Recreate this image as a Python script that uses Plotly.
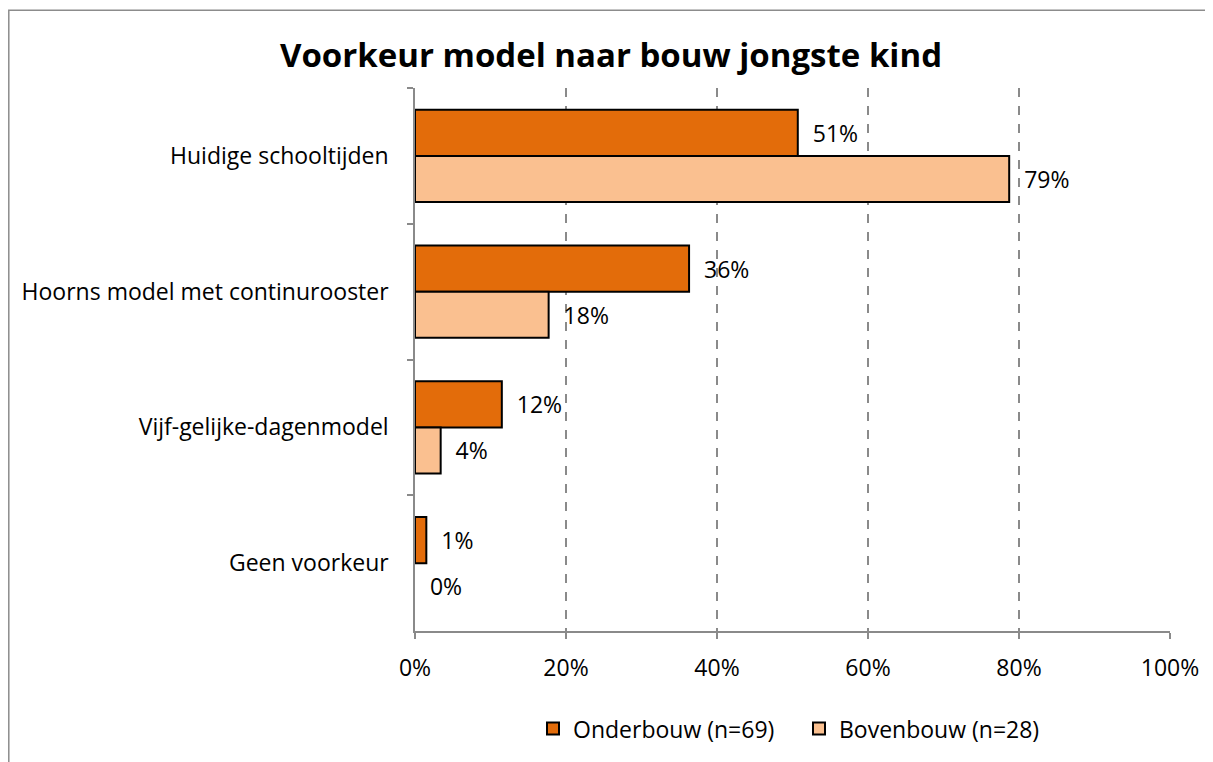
import plotly.graph_objects as go

categories = ["Huidige schooltijden", "Hoorns model met continurooster", "Vijf-gelijke-dagenmodel", "Geen voorkeur"]
onderbouw = [0.507, 0.363, 0.115, 0.015]
bovenbouw = [0.787, 0.177, 0.034, 0.0]
onder_labels = ["51%", "36%", "12%", "1%"]
boven_labels = ["79%", "18%", "4%", "0%"]
series_names = ["Onderbouw (n=69)", "Bovenbouw (n=28)"]
x_ticks = [0, 0.2, 0.4, 0.6, 0.8, 1.0]
x_tick_labels = ["0%", "20%", "40%", "60%", "80%", "100%"]

FONT = "Open Sans, sans-serif"
FS = 23

# page has an 8px body margin; figure coordinates are page coordinates minus 8
W, H = 1205, 754
L, R_EDGE, T, B_EDGE = 407, 1162, 80, 625
PW, PH = R_EDGE - L, B_EDGE - T

fig = go.Figure()
fig.add_trace(go.Bar(
    y=categories, x=onderbouw, orientation="h", name=series_names[0],
    marker=dict(color="#E36C0A", line=dict(color="#000000", width=[2 if v > 0 else 0 for v in onderbouw])),
    text=["  " + t for t in onder_labels], textposition="outside", cliponaxis=False,
    textfont=dict(size=FS, color="#000000", family=FONT),
))
fig.add_trace(go.Bar(
    y=categories, x=bovenbouw, orientation="h", name=series_names[1],
    marker=dict(color="#FAC090", line=dict(color="#000000", width=[2 if v > 0 else 0 for v in bovenbouw])),
    text=["  " + t for t in boven_labels], textposition="outside", cliponaxis=False,
    textfont=dict(size=FS, color="#000000", family=FONT),
))

fig.update_layout(
    width=W, height=H,
    paper_bgcolor="white", plot_bgcolor="white",
    barmode="group", bargap=0.32, bargroupgap=0,
    margin=dict(l=L, r=W - R_EDGE, t=T, b=H - B_EDGE, pad=0),
    title=dict(text="<b>Voorkeur model naar bouw jongste kind</b>", x=(611 - 8) / W, xanchor="center",
               y=1 - 47 / H, yanchor="middle",
               font=dict(size=33, color="#000000", family=FONT)),
    font=dict(family=FONT, size=FS, color="#000000"),
    legend=dict(orientation="h", x=(533 - 8 - L) / PW, xanchor="left",
                y=-(731 - 633) / PH, yanchor="middle",
                entrywidth=221, entrywidthmode="pixels",
                font=dict(size=FS, color="#000000", family=FONT), traceorder="normal"),
    xaxis=dict(range=[0, 1.0], tickvals=x_ticks, ticktext=x_tick_labels,
               showgrid=True, gridcolor="#8a8a8a", griddash="dash", gridwidth=1.5,
               zeroline=False, showline=True, linecolor="#8a8a8a", linewidth=1.5,
               ticks="outside", ticklen=6, tickcolor="#8a8a8a", tickwidth=1.5,
               ticklabelstandoff=10,
               tickfont=dict(size=FS, color="#000000", family=FONT)),
    yaxis=dict(autorange="reversed", showline=True, linecolor="#8a8a8a", linewidth=1.5,
               ticks="outside", tickson="boundaries", ticklen=6, tickcolor="#8a8a8a", tickwidth=1.5,
               showgrid=False, ticklabelstandoff=20,
               tickfont=dict(size=FS, color="#000000", family=FONT)),
    showlegend=True,
)

fig.add_shape(type="rect", xref="paper", yref="paper",
              x0=(0.8 - L) / PW, x1=(W + 5 - L) / PW,
              y0=(B_EDGE - (H + 5)) / PH, y1=(B_EDGE - 2) / PH,
              line=dict(color="#8c8c8c", width=1.5), fillcolor="rgba(0,0,0,0)", layer="below")

fig.write_html("out.html")
